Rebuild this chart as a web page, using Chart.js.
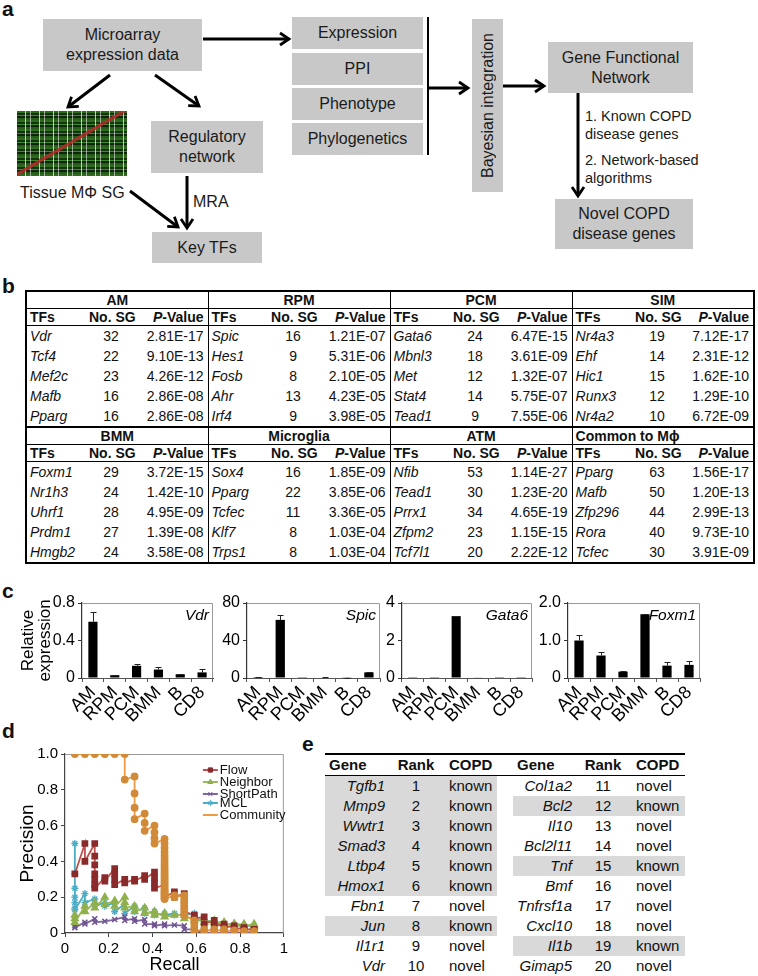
<!DOCTYPE html>
<html><head><meta charset="utf-8">
<script src="https://cdn.jsdelivr.net/npm/chart.js@4.4.1/dist/chart.umd.min.js"></script>
<style>
html,body{margin:0;padding:0;background:#fff;}
#root{position:relative;width:758px;height:976px;overflow:hidden;font-family:"Liberation Sans",Arial,sans-serif;color:#111;}
.lbl{position:absolute;font-weight:bold;font-size:21px;line-height:21px;}
.box{position:absolute;background:#c8c8c8;display:flex;align-items:center;justify-content:center;text-align:center;font-size:16px;line-height:20px;color:#1a1a1a;}
.txt{position:absolute;font-size:14.5px;line-height:18px;white-space:nowrap;color:#1a1a1a;}
canvas{position:absolute;}
#heat{position:absolute;left:17px;top:111px;width:110px;height:65px;
 background:
  linear-gradient(to bottom right, transparent 0 47%, rgba(185,40,40,.8) 47.5% 50%, transparent 50.5%),
  repeating-linear-gradient(to right, transparent 0 8px, rgba(235,235,235,.8) 8px 9px, transparent 9px 13px, rgba(235,235,235,.6) 13px 14px),
  repeating-linear-gradient(to bottom, #2f6b1f 0 2px, #123510 2px 4px, #3f8a2b 4px 5px, #0d260a 5px 7px, #275d1a 7px 9px);}
#tb{position:absolute;left:25px;top:290px;width:728px;border-collapse:collapse;table-layout:fixed;border:2px solid #000;font-size:14px;}
#tb td{padding:0 3px;white-space:nowrap;line-height:16px;overflow:visible;}
#tb tr.gh td{height:16px;font-weight:bold;text-align:center;border-bottom:1px solid #000;}
#tb tr.gh td.lft{text-align:left;}
#tb tr.ch td{height:16px;font-weight:bold;border-bottom:1px solid #000;}
#tb tr.dr td{height:20px;}
#tb tr.sep td{border-top:2px solid #000;}
#tb td.bl{border-left:1.5px solid #000;}
#tb td.c{text-align:center;}
#tb td.r{text-align:right;padding-right:4px;}
#te{position:absolute;left:325px;top:753px;width:360px;border-collapse:collapse;table-layout:fixed;font-size:15px;border-top:2.5px solid #000;}
#te td{padding:0;white-space:nowrap;height:20px;line-height:20px;}
#te tr.h td{font-weight:bold;border-bottom:1px solid #000;height:19px;}
#te td.g{text-align:right;padding-right:5px;font-style:italic;}
#te tr.h td.g{text-align:left;padding-left:4px;font-style:normal;}
#te td.k{text-align:center;}
#te td.s{padding-left:7px;}
#te td.sh{background:#d9d9d9;}
</style>
</head><body><div id="root">
<div class="lbl" style="left:2px;top:-2px">a</div>
<div class="lbl" style="left:2px;top:275px">b</div>
<div class="lbl" style="left:2px;top:580px">c</div>
<div class="lbl" style="left:2px;top:720px">d</div>
<div class="lbl" style="left:302px;top:733px">e</div>

<div class="box" style="left:43px;top:19px;width:159px;height:52px">Microarray<br>expression data</div>
<div class="box" style="left:292px;top:17px;width:131px;height:32px">Expression</div>
<div class="box" style="left:292px;top:53px;width:131px;height:32px">PPI</div>
<div class="box" style="left:292px;top:88px;width:131px;height:32px">Phenotype</div>
<div class="box" style="left:292px;top:123px;width:131px;height:32px">Phylogenetics</div>
<div class="box" style="left:472px;top:19px;width:31px;height:173px"><span style="writing-mode:vertical-rl;transform:rotate(180deg)">Bayesian integration</span></div>
<div class="box" style="left:548px;top:42px;width:145px;height:51px">Gene Functional<br>Network</div>
<div class="box" style="left:555px;top:199px;width:138px;height:50px">Novel COPD<br>disease genes</div>
<div class="box" style="left:151px;top:121px;width:112px;height:52px">Regulatory<br>network</div>
<div class="box" style="left:152px;top:232px;width:110px;height:31px">Key TFs</div>
<div id="heat"></div>
<div class="txt" style="left:20px;top:183px;font-size:16px;line-height:20px">Tissue MΦ SG</div>
<div class="txt" style="left:193px;top:192px;font-size:16px;line-height:20px">MRA</div>
<div class="txt" style="left:585px;top:107px">1. Known COPD<br>disease genes</div>
<div class="txt" style="left:585px;top:151px">2. Network-based<br>algorithms</div>
<svg width="758" height="280" style="position:absolute;left:0;top:0">
 <defs><marker id="ah" markerWidth="16" markerHeight="16" refX="11" refY="8" orient="auto" markerUnits="userSpaceOnUse"><path d="M2,2 L11,8 L2,14" fill="none" stroke="#000" stroke-width="2.8"/></marker></defs>
 <g stroke="#000" stroke-width="3" fill="none">
  <line x1="203" y1="39" x2="289" y2="39" marker-end="url(#ah)"/>
  <line x1="428" y1="17" x2="428" y2="155" stroke-width="2"/>
  <line x1="428" y1="88" x2="468" y2="88" marker-end="url(#ah)"/>
  <line x1="503" y1="86" x2="544" y2="86" marker-end="url(#ah)"/>
  <line x1="578" y1="93" x2="578" y2="196" marker-end="url(#ah)"/>
  <line x1="110" y1="75" x2="68" y2="107" marker-end="url(#ah)"/>
  <line x1="155" y1="75" x2="199" y2="106" marker-end="url(#ah)"/>
  <line x1="187" y1="176" x2="187" y2="228" marker-end="url(#ah)"/>
  <line x1="130" y1="191" x2="178" y2="227" marker-end="url(#ah)"/>
 </g>
</svg>

<table id="tb"></table>

<canvas id="c1" width="208" height="150" style="left:10px;top:590px"></canvas>
<canvas id="c2" width="178" height="150" style="left:207px;top:590px"></canvas>
<canvas id="c3" width="165" height="150" style="left:372px;top:590px"></canvas>
<canvas id="c4" width="177" height="150" style="left:528px;top:590px"></canvas>

<canvas id="pr" width="281" height="236" style="left:10px;top:740px"></canvas>

<table id="te"></table>
</div>
<script>
// ---------- Panel b data ----------
const tblAM = [['Vdr',32,'2.81E-17'],['Tcf4',22,'9.10E-13'],['Mef2c',23,'4.26E-12'],['Mafb',16,'2.86E-08'],['Pparg',16,'2.86E-08']];
const tblRPM = [['Spic',16,'1.21E-07'],['Hes1',9,'5.31E-06'],['Fosb',8,'2.10E-05'],['Ahr',13,'4.23E-05'],['Irf4',9,'3.98E-05']];
const tblPCM = [['Gata6',24,'6.47E-15'],['Mbnl3',18,'3.61E-09'],['Met',12,'1.32E-07'],['Stat4',14,'5.75E-07'],['Tead1',9,'7.55E-06']];
const tblSIM = [['Nr4a3',19,'7.12E-17'],['Ehf',14,'2.31E-12'],['Hic1',15,'1.62E-10'],['Runx3',12,'1.29E-10'],['Nr4a2',10,'6.72E-09']];
const tblBMM = [['Foxm1',29,'3.72E-15'],['Nr1h3',24,'1.42E-10'],['Uhrf1',28,'4.95E-09'],['Prdm1',27,'1.39E-08'],['Hmgb2',24,'3.58E-08']];
const tblMicroglia = [['Sox4',16,'1.85E-09'],['Pparg',22,'3.85E-06'],['Tcfec',11,'3.36E-05'],['Klf7',8,'1.03E-04'],['Trps1',8,'1.03E-04']];
const tblATM = [['Nfib',53,'1.14E-27'],['Tead1',30,'1.23E-20'],['Prrx1',34,'4.65E-19'],['Zfpm2',23,'1.15E-15'],['Tcf7l1',20,'2.22E-12']];
const tblCommon = [['Pparg',63,'1.56E-17'],['Mafb',50,'1.20E-13'],['Zfp296',44,'2.99E-13'],['Rora',40,'9.73E-10'],['Tcfec',30,'3.91E-09']];

// ---------- Panel c data ----------
const cellTypes = ['AM','RPM','PCM','BMM','B','CD8'];
const vdrValues = [0.60,0.03,0.13,0.09,0.04,0.06];
const vdrErrors = [0.10,0.005,0.02,0.03,0.005,0.04];
const spicValues = [1.0,62,0.2,0.5,0.3,6];
const spicErrors = [0.3,5,0,0.2,0.1,0.5];
const gata6Values = [0.01,0.01,3.3,0.02,0.01,0.01];
const gata6Errors = [0,0,0.03,0,0,0];
const foxm1Values = [1.0,0.6,0.17,1.7,0.33,0.35];
const foxm1Errors = [0.15,0.1,0.01,0.02,0.1,0.1];

// ---------- Panel d data ----------
const flowRecall = [0.045,0.091,0.091,0.136,0.136,0.136,0.136,0.136,0.136,0.136,0.182,0.182,0.227,0.227,0.227,0.227,0.273,0.273,0.318,0.318,0.364,0.364,0.409,0.409,0.409,0.409,0.455,0.455,0.5,0.5,0.545,0.545,0.545,0.545,0.591,0.591,0.636,0.636,0.682,0.682,0.727,0.727,0.773,0.773,0.818,0.818,0.864,0.864];
const flowPrecision = [0.33,0.50,0.40,0.50,0.43,0.38,0.33,0.30,0.27,0.25,0.31,0.29,0.36,0.33,0.30,0.27,0.30,0.28,0.30,0.29,0.32,0.30,0.34,0.31,0.28,0.25,0.27,0.20,0.23,0.20,0.22,0.18,0.15,0.12,0.10,0.08,0.09,0.05,0.07,0.04,0.05,0.03,0.04,0.02,0.03,0.02,0.02,0.01];
const neighborRecall = [0.045,0.045,0.045,0.091,0.091,0.136,0.136,0.182,0.182,0.227,0.227,0.273,0.273,0.273,0.318,0.318,0.364,0.364,0.409,0.409,0.455,0.455,0.5,0.545,0.545,0.591,0.591,0.636,0.636,0.682,0.682,0.727,0.727,0.773,0.773,0.818,0.818,0.864,0.864];
const neighborPrecision = [0.10,0.08,0.06,0.15,0.12,0.17,0.14,0.20,0.16,0.18,0.15,0.20,0.17,0.14,0.15,0.12,0.14,0.11,0.12,0.10,0.11,0.09,0.10,0.10,0.08,0.09,0.07,0.08,0.06,0.07,0.06,0.06,0.05,0.05,0.05,0.05,0.04,0.05,0.04];
const shortPathRecall = [0.045,0.045,0.091,0.091,0.136,0.136,0.182,0.227,0.273,0.273,0.318,0.318,0.364,0.364,0.409,0.409,0.455,0.455,0.5,0.545,0.545,0.591,0.591,0.636,0.636,0.682,0.727,0.773,0.818,0.864];
const shortPathPrecision = [0.04,0.03,0.06,0.05,0.08,0.06,0.065,0.075,0.09,0.07,0.08,0.065,0.075,0.05,0.05,0.04,0.05,0.04,0.045,0.04,0.02,0.02,0.005,0.01,0,0,0,0,0,0];
const mclRecall = [0.045,0.045,0.045,0.045,0.045,0.045,0.045,0.091,0.091,0.136,0.136,0.182,0.182,0.227,0.227,0.273,0.273,0.318,0.318,0.364,0.364,0.409,0.409,0.455,0.455,0.5,0.5,0.545,0.591,0.591,0.636,0.682,0.727,0.773,0.818,0.864];
const mclPrecision = [0.50,0.33,0.25,0.20,0.17,0.14,0.13,0.22,0.17,0.19,0.15,0.17,0.15,0.17,0.12,0.16,0.11,0.15,0.12,0.14,0.11,0.12,0.10,0.11,0.10,0.11,0.10,0.10,0.11,0.07,0.07,0.06,0.05,0.045,0.04,0.04];
const communityRecall = [0.045,0.091,0.136,0.182,0.227,0.273,0.273,0.318,0.318,0.318,0.318,0.364,0.364,0.364,0.409,0.409,0.409,0.409,
 0.455,0.455,0.455,0.455,0.455,0.455,0.455,0.455,0.455,0.455,0.455,0.455,0.455,0.455,0.455,0.455,0.455,0.455,0.455,0.455,0.455,0.455,0.455,0.455,0.455,0.455,0.455,0.455,0.455,
 0.5,0.5,0.545,0.545,0.545,0.545,0.545,0.545,0.545,0.591,0.591,0.591,0.591,0.636,0.636,0.682,0.682,0.727,0.727,0.773,0.818,0.864];
const communityPrecision = [1,1,1,1,1,1,0.857,0.875,0.78,0.70,0.636,0.667,0.615,0.571,0.60,0.5625,0.53,0.50,
 0.526,0.50,0.476,0.455,0.435,0.417,0.40,0.385,0.37,0.357,0.345,0.333,0.32,0.31,0.30,0.29,0.28,0.27,0.26,0.25,0.24,0.235,0.23,0.22,0.215,0.21,0.20,0.195,0.19,
 0.21,0.20,0.21,0.19,0.17,0.15,0.13,0.11,0.10,0.07,0.05,0.03,0.01,0.02,0.01,0.02,0.01,0.02,0.01,0.015,0.01,0.01];

// ---------- Panel e data ----------
const geneNames = ['Tgfb1','Mmp9','Wwtr1','Smad3','Ltbp4','Hmox1','Fbn1','Jun','Il1r1','Vdr','Col1a2','Bcl2','Il10','Bcl2l11','Tnf','Bmf','Tnfrsf1a','Cxcl10','Il1b','Gimap5'];
const geneRanks = [1,2,3,4,5,6,7,8,9,10,11,12,13,14,15,16,17,18,19,20];
const copdStatus = ['known','known','known','known','known','known','novel','known','novel','novel','novel','known','novel','novel','known','novel','novel','novel','known','novel'];

// ---------- build table b ----------
(function(){
  const halves = [[['AM',tblAM],['RPM',tblRPM],['PCM',tblPCM],['SIM',tblSIM]],
                  [['BMM',tblBMM],['Microglia',tblMicroglia],['ATM',tblATM],['Common to Mϕ',tblCommon]]];
  let h = '<colgroup>' + '<col style="width:60px"><col style="width:50px"><col style="width:72px">'.repeat(4) + '</colgroup>';
  halves.forEach((half,hi)=>{
    h += '<tr class="gh' + (hi ? ' sep' : '') + '">' + half.map((g,gi)=>'<td colspan="3" class="' + (gi?'bl ':'') + (g[0].indexOf('Common')===0?'lft':'') + '">' + g[0] + '</td>').join('') + '</tr>';
    h += '<tr class="ch">' + half.map((g,gi)=>'<td class="' + (gi?'bl':'') + '">TFs</td><td class="c">No. SG</td><td class="r"><i>P</i>-Value</td>').join('') + '</tr>';
    for (let r=0;r<5;r++){
      h += '<tr class="dr">' + half.map((g,gi)=>{const row=g[1][r];return '<td class="' + (gi?'bl':'') + '"><i>' + row[0] + '</i></td><td class="c">' + row[1] + '</td><td class="r">' + row[2] + '</td>';}).join('') + '</tr>';
    }
  });
  document.getElementById('tb').innerHTML = h;
})();

// ---------- build table e ----------
(function(){
  let h = '<colgroup><col style="width:65px"><col style="width:52px"><col style="width:55px"><col style="width:16px"><col style="width:64px"><col style="width:52px"><col style="width:56px"></colgroup>';
  h += '<tr class="h"><td class="g">Gene</td><td class="k">Rank</td><td class="s">COPD</td><td></td><td class="g">Gene</td><td class="k">Rank</td><td class="s">COPD</td></tr>';
  for (let r=0;r<10;r++){
    const cells = [r, r+10].map(i=>{
      const sh = copdStatus[i]==='known' ? ' sh' : '';
      return '<td class="g'+sh+'">'+geneNames[i]+'</td><td class="k'+sh+'">'+geneRanks[i]+'</td><td class="s'+sh+'">'+copdStatus[i]+'</td>';
    });
    h += '<tr>' + cells[0] + '<td></td>' + cells[1] + '</tr>';
  }
  document.getElementById('te').innerHTML = h;
})();

// ---------- charts ----------
Chart.defaults.font.family = '"Liberation Sans", Arial, sans-serif';
Chart.defaults.color = '#000';

const framePlugin = {id:'frame', beforeDatasetsDraw(chart){
  const a = chart.chartArea, ctx = chart.ctx;
  ctx.save(); ctx.strokeStyle = '#9a9a9a'; ctx.lineWidth = 1;
  ctx.beginPath(); ctx.moveTo(a.left, a.top+0.5); ctx.lineTo(a.right-0.5, a.top+0.5); ctx.lineTo(a.right-0.5, a.bottom); ctx.stroke();
  ctx.restore();
}};

function errPlugin(errors){
  return {id:'errbars', afterDatasetsDraw(chart){
    const meta = chart.getDatasetMeta(0), ys = chart.scales.y, ctx = chart.ctx;
    const vals = chart.data.datasets[0].data;
    ctx.save(); ctx.strokeStyle = '#222'; ctx.lineWidth = 1;
    meta.data.forEach((bar,i)=>{
      const e = errors[i]; if (!e) return;
      const yt = Math.round(ys.getPixelForValue(vals[i]+e))+0.5;
      const x = Math.round(bar.x)+0.5;
      ctx.beginPath(); ctx.moveTo(x, bar.y); ctx.lineTo(x, yt); ctx.moveTo(x-3, yt); ctx.lineTo(x+3, yt); ctx.stroke();
    });
    ctx.restore();
  }};
}
function genePlugin(name){
  return {id:'gene', afterDraw(chart){
    const a = chart.chartArea, ctx = chart.ctx;
    ctx.save(); ctx.font = 'italic 15.5px "Liberation Sans", Arial, sans-serif'; ctx.fillStyle = '#000';
    ctx.textAlign = 'right'; ctx.textBaseline = 'middle';
    ctx.fillText(name, a.right-4, a.top+13); ctx.restore();
  }};
}

function barChart(id, values, errors, gene, yMax, yStep, fmt, axisW, title){
  const yScale = {
    min:0, max:yMax,
    ticks:{stepSize:yStep, callback:fmt, font:{size:16}, padding:3, color:'#000'},
    grid:{drawOnChartArea:false, tickLength:4, color:'#333'},
    border:{color:'#333', width:1.2},
    afterFit(s){ s.width = axisW; }
  };
  if (title) yScale.title = {display:true, text:title, font:{size:17, lineHeight:1}, padding:{top:10,bottom:0}, color:'#000'};
  return new Chart(document.getElementById(id), {
    type:'bar',
    data:{labels:cellTypes, datasets:[{data:values, backgroundColor:'#000', barPercentage:0.42, categoryPercentage:1}]},
    options:{
      animation:false, responsive:false, devicePixelRatio:1,
      layout:{padding:{top:13, right:5, left:0, bottom:0}},
      plugins:{legend:{display:false}, tooltip:{enabled:false}},
      scales:{
        x:{grid:{drawOnChartArea:false, tickLength:4, color:'#555', offset:true},
           border:{color:'#555', width:1},
           ticks:{font:{size:18}, minRotation:45, maxRotation:45, autoSkip:false, padding:0, color:'#000'},
           afterFit(s){ s.height = 62; }},
        y:yScale
      }
    },
    plugins:[framePlugin, errPlugin(errors), genePlugin(gene)]
  });
}
const fmtPlain = v => String(v);
const fmt1 = v => v===0 ? '0' : v.toFixed(1);
barChart('c1', vdrValues, vdrErrors, 'Vdr', 0.8, 0.2, fmt1, 72, ['Relative','expression']);
barChart('c2', spicValues, spicErrors, 'Spic', 80, 20, fmtPlain, 40, null);
barChart('c3', gata6Values, gata6Errors, 'Gata6', 4, 1, fmtPlain, 30, null);
barChart('c4', foxm1Values, foxm1Errors, 'Foxm1', 2, 0.5, fmt1, 40, null);

// ---------- precision-recall chart ----------
const pts = (xs, ys) => xs.map((x,i)=>({x:x, y:ys[i]}));
const legendOffsets = [16,28,40,49,61];
const inLegend = {id:'inlegend', afterDraw(chart){
  const a = chart.chartArea, ctx = chart.ctx;
  const x0 = a.left + 0.63*(a.right-a.left);
  ctx.save();
  chart.data.datasets.forEach((ds,i)=>{
    const y = a.top + legendOffsets[i];
    ctx.strokeStyle = ds.borderColor; ctx.lineWidth = 2;
    ctx.beginPath(); ctx.moveTo(x0, y); ctx.lineTo(x0+15, y); ctx.stroke();
    if (ds.legendMarker) {
      ctx.fillStyle = ds.pointBackgroundColor; ctx.strokeStyle = ds.pointBorderColor; ctx.lineWidth = 1;
      Chart.helpers.drawPoint(ctx, {pointStyle:ds.pointStyle, radius:3, borderWidth:1, rotation:0}, x0+7.5, y);
    }
    ctx.fillStyle = '#111'; ctx.font = '13px "Liberation Sans", Arial, sans-serif';
    ctx.textAlign = 'left'; ctx.textBaseline = 'middle';
    ctx.fillText(ds.label, x0+17, y);
  });
  ctx.restore();
}};

new Chart(document.getElementById('pr'), {
  type:'line',
  data:{datasets:[
    {label:'Flow', data:pts(flowRecall, flowPrecision), borderColor:'#C0504D', pointBackgroundColor:'#8A2B2B', pointBorderColor:'#8A2B2B', pointStyle:'rect', pointRadius:3.5, borderWidth:1.8, order:1, legendMarker:true},
    {label:'Neighbor', data:pts(neighborRecall, neighborPrecision), borderColor:'#9BBB59', pointBackgroundColor:'#8FB04C', pointBorderColor:'#8FB04C', pointStyle:'triangle', pointRadius:3.5, borderWidth:1.8, order:1, legendMarker:true},
    {label:'ShortPath', data:pts(shortPathRecall, shortPathPrecision), borderColor:'#8064A2', pointBackgroundColor:'#6E5490', pointBorderColor:'#6E5490', pointStyle:'crossRot', pointRadius:3.5, pointBorderWidth:1.5, borderWidth:1.8, order:1, legendMarker:true},
    {label:'MCL', data:pts(mclRecall, mclPrecision), borderColor:'#4BACC6', pointBackgroundColor:'#4BACC6', pointBorderColor:'#4BACC6', pointStyle:'star', pointRadius:3.5, pointBorderWidth:1.3, borderWidth:1.8, order:1, legendMarker:true},
    {label:'Community', data:pts(communityRecall, communityPrecision), borderColor:'#EE9A45', pointBackgroundColor:'#D08A38', pointBorderColor:'#D08A38', pointStyle:'circle', pointRadius:3, borderWidth:1.8, order:0, legendMarker:false}
  ]},
  options:{
    animation:false, responsive:false, devicePixelRatio:1,
    layout:{padding:{top:14, right:6, left:0, bottom:0}},
    plugins:{legend:{display:false}, tooltip:{enabled:false}},
    elements:{line:{tension:0}},
    scales:{
      x:{type:'linear', min:0, max:1,
         ticks:{stepSize:0.2, callback:v=>(v===0||v===1)?String(v):v.toFixed(1), font:{size:15}, color:'#000', padding:3},
         grid:{drawOnChartArea:false, tickLength:4, color:'#444'}, border:{color:'#444', width:1.2},
         title:{display:true, text:'Recall', font:{size:18}, padding:{top:0,bottom:0}, color:'#000'},
         afterFit(s){ s.height = 43; }},
      y:{min:0, max:1,
         ticks:{stepSize:0.2, callback:v=>v===0?'0':v.toFixed(1), font:{size:15}, color:'#000', padding:3},
         grid:{drawOnChartArea:false, tickLength:4, color:'#444'}, border:{color:'#444', width:1.2},
         title:{display:true, text:'Precision', font:{size:19}, padding:{top:6,bottom:0}, color:'#000'},
         afterFit(s){ s.width = 55; }}
    }
  },
  plugins:[framePlugin, inLegend]
});
</script>
</body></html>
